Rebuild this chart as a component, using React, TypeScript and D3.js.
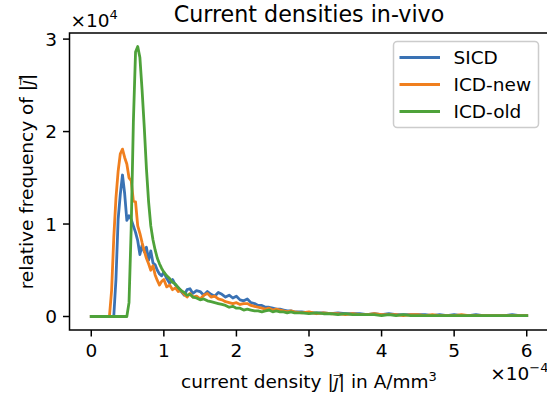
import React from "react";
import * as d3 from "d3";

// bin centres of |j| in units of 1e-4 A/mm^3
const jBins = [
  0, 0.1, 0.2, 0.25, 0.28, 0.31, 0.34, 0.37, 0.4, 0.43, 0.46, 0.49, 0.52, 0.55, 0.58, 0.61, 0.64, 0.67, 0.7, 0.73,
  0.76, 0.79, 0.82, 0.85, 0.88, 0.91, 0.94, 0.97, 1.0,
  1.04, 1.08, 1.12, 1.16, 1.2, 1.24, 1.28, 1.32, 1.36, 1.4,
  1.45, 1.5, 1.55, 1.6, 1.65, 1.7, 1.75, 1.8, 1.85, 1.9, 1.95, 2.0, 2.05, 2.1, 2.15, 2.2, 2.25, 2.3, 2.35, 2.4,
  2.45, 2.5, 2.55, 2.6, 2.65, 2.7, 2.75, 2.8,
  2.9, 3.0, 3.1, 3.2, 3.3, 3.4, 3.5, 3.6, 3.7, 3.8, 3.9, 4.0, 4.1, 4.2, 4.3, 4.4, 4.5, 4.6, 4.7, 4.8, 4.9, 5.0,
  5.1, 5.2, 5.3, 5.4, 5.5, 5.6, 5.7, 5.8, 5.9, 6.0,
];

// relative frequencies in units of 1e4
const sicd = [
  0, 0, 0, 0, 0, 0, 0.4, 1.05, 1.32, 1.53, 1.33, 1.04, 1.09, 1.05, 0.98, 0.91, 0.82, 0.67, 0.77, 0.7,
  0.75, 0.61, 0.71, 0.58, 0.56, 0.5, 0.46, 0.44, 0.48,
  0.41, 0.36, 0.4, 0.34, 0.31, 0.27, 0.23, 0.29, 0.3, 0.25,
  0.28, 0.27, 0.23, 0.27, 0.24, 0.22, 0.26, 0.24, 0.21, 0.23, 0.2, 0.22, 0.18, 0.17, 0.19, 0.15, 0.14, 0.12, 0.12, 0.1,
  0.1, 0.09, 0.08, 0.08, 0.07, 0.06, 0.06, 0.05,
  0.05, 0.04, 0.04, 0.04, 0.03, 0.04, 0.03, 0.03, 0.03, 0.02, 0.03, 0.02, 0.03, 0.02, 0.02, 0.02, 0.02, 0.02, 0.01, 0.02, 0.01, 0.02,
  0.01, 0.01, 0.02, 0.01, 0.01, 0.01, 0.01, 0.02, 0.01, 0.01,
];

const icdNew = [
  0, 0, 0, 0, 0.28, 0.85, 1.28, 1.57, 1.76, 1.81, 1.72, 1.65, 1.5, 1.47, 1.25, 1.24, 0.98, 0.9, 0.8, 0.71,
  0.63, 0.57, 0.5, 0.55, 0.45, 0.39, 0.34, 0.38, 0.4,
  0.32, 0.34, 0.29, 0.31, 0.27, 0.28, 0.24, 0.21, 0.25, 0.21,
  0.22, 0.19, 0.23, 0.25, 0.21, 0.22, 0.19, 0.18, 0.16, 0.15, 0.14, 0.15, 0.13, 0.14, 0.14, 0.12, 0.11, 0.1, 0.09, 0.08,
  0.09, 0.07, 0.08, 0.07, 0.06, 0.05, 0.06, 0.05,
  0.04, 0.05, 0.03, 0.04, 0.03, 0.03, 0.02, 0.03, 0.02, 0.02, 0.03, 0.02, 0.02, 0.02, 0.01, 0.02, 0.02, 0.01, 0.02, 0.01, 0.01, 0.01,
  0.02, 0.01, 0.01, 0.01, 0.01, 0.01, 0.01, 0.01, 0.01, 0.01,
];

const icdOld = [
  0, 0, 0, 0, 0, 0, 0, 0, 0, 0, 0, 0, 0.15, 0.95, 2.1, 2.86, 2.92, 2.8, 2.45, 2.05,
  1.6, 1.24, 0.98, 0.83, 0.72, 0.63, 0.57, 0.52, 0.48,
  0.44, 0.41, 0.37, 0.35, 0.31, 0.28, 0.26, 0.23, 0.24, 0.21,
  0.2, 0.18, 0.19, 0.17, 0.16, 0.15, 0.14, 0.13, 0.12, 0.1, 0.11, 0.09, 0.09, 0.07, 0.08, 0.07, 0.06, 0.06, 0.05, 0.06,
  0.07, 0.05, 0.06, 0.05, 0.05, 0.04, 0.05, 0.04,
  0.04, 0.03, 0.04, 0.03, 0.03, 0.02, 0.03, 0.02, 0.02, 0.02, 0.02, 0.01, 0.02, 0.01, 0.02, 0.01, 0.01, 0.01, 0.01, 0.01, 0.01, 0.01,
  0.01, 0.01, 0.01, 0.01, 0.01, 0.01, 0.01, 0.01, 0.01, 0.01,
];

const seriesNames = ["SICD", "ICD-new", "ICD-old"];
const seriesColors = ["#3a72b4", "#f07f1e", "#4ea23a"];
const seriesValues = [sicd, icdNew, icdOld];

const xTicks = [0, 1, 2, 3, 4, 5, 6];
const yTicks = [0, 1, 2, 3];

const W = 547;
const H = 399;
const FONT = "'DejaVu Sans', sans-serif";

export default function App() {
  const x = d3.scaleLinear().domain([-0.3, 6.3]).range([69.5, 548.5]);
  const y = d3.scaleLinear().domain([-0.146, 3.066]).range([330, 33]);
  const left = x.range()[0];
  const right = x.range()[1];
  const top = y.range()[1];
  const bottom = y.range()[0];

  const line = d3
    .line<number>()
    .x((_, i) => x(jBins[i]))
    .y((d) => y(d));

  const tickFs = 18.5;
  const legendX = 393.5;
  const legendY = 41.5;
  const rowH = 27;

  return (
    <svg
      width={W}
      height={H}
      style={{ position: "absolute", left: 0, top: 0, background: "#fff" }}
      fontFamily={FONT}
    >
      <rect x={0} y={0} width={W} height={H} fill="#fff" />
      {/* series */}
      {seriesValues.map((vals, k) => (
        <path
          key={seriesNames[k]}
          d={line(vals) || ""}
          fill="none"
          stroke={seriesColors[k]}
          strokeWidth={2.8}
          strokeLinejoin="round"
          strokeLinecap="square"
        />
      ))}

      {/* spines */}
      <rect x={left} y={top} width={right - left} height={bottom - top} fill="none" stroke="#000" strokeWidth={1.5} />

      {/* x ticks */}
      {xTicks.map((t) => (
        <g key={"x" + t}>
          <line x1={x(t)} x2={x(t)} y1={bottom} y2={bottom + 6.5} stroke="#000" strokeWidth={1.5} />
          <text x={x(t)} y={356.5} fontSize={tickFs} textAnchor="middle" fill="#000">
            {t}
          </text>
        </g>
      ))}
      {/* y ticks */}
      {yTicks.map((t) => (
        <g key={"y" + t}>
          <line x1={left - 6.5} x2={left} y1={y(t)} y2={y(t)} stroke="#000" strokeWidth={1.5} />
          <text x={57} y={y(t) + 6.7} fontSize={tickFs} textAnchor="end" fill="#000">
            {t}
          </text>
        </g>
      ))}

      {/* offset texts */}
      <text x={left + 1} y={26.7} fontSize={tickFs} fill="#000">
        ×10
        <tspan fontSize={13} dy={-8}>4</tspan>
      </text>
      <text x={right} y={380} fontSize={tickFs} textAnchor="end" fill="#000">
        ×10
        <tspan fontSize={13} dy={-8}>−4</tspan>
      </text>

      {/* title */}
      <text x={(left + right) / 2} y={21.5} fontSize={22.2} textAnchor="middle" fill="#000">
        Current densities in-vivo
      </text>

      {/* x label */}
      <text x={(left + right) / 2} y={388.3} fontSize={tickFs} textAnchor="middle" fill="#000">
        current density |<tspan fontStyle="italic">j⃗</tspan>| in A/mm
        <tspan fontSize={13} dy={-7}>3</tspan>
      </text>

      {/* y label */}
      <text
        transform={`translate(33,${(top + bottom) / 2}) rotate(-90)`}
        fontSize={tickFs}
        textAnchor="middle"
        fill="#000"
      >
        relative frequency of |<tspan fontStyle="italic">j⃗</tspan>|
      </text>

      {/* legend */}
      <rect
        x={legendX}
        y={legendY}
        width={145}
        height={86}
        rx={3.7}
        fill="#fff"
        fillOpacity={0.8}
        stroke="#cccccc"
        strokeWidth={1.5}
      />
      {seriesNames.map((name, k) => {
        const cy = legendY + 16 + k * rowH;
        return (
          <g key={"leg" + name}>
            <line x1={399.5} x2={440} y1={cy} y2={cy} stroke={seriesColors[k]} strokeWidth={2.8} />
            <text x={453.5} y={cy + 6.2} fontSize={tickFs} fill="#000">
              {name}
            </text>
          </g>
        );
      })}
    </svg>
  );
}
